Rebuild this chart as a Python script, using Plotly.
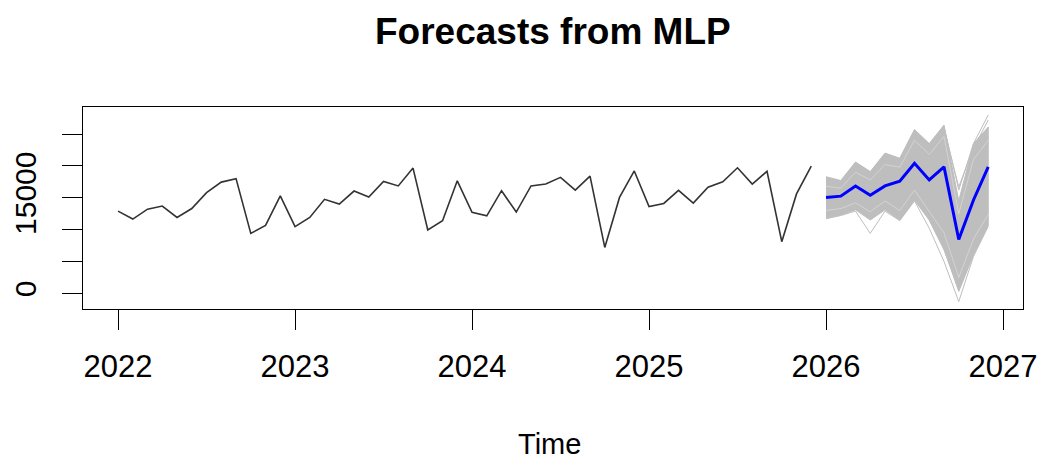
import plotly.graph_objects as go

# Observed monthly series, Jan 2022 - Dec 2025
observed = [
    12900, 11650, 13200, 13700, 11900, 13300, 15800, 17450, 18000, 9400, 10650, 15300,
    10450, 11900, 14750, 14000, 16050, 15100, 17550, 16850, 19650, 9950, 11400, 17650,
    12700, 12150, 16100, 12750, 16850, 17150, 18200, 16200, 18400, 7200, 15050, 19200,
    13600, 14100, 16150, 14150, 16650, 17500, 19700, 17150, 19150, 8100, 15600, 19950,
]
obs_start = 2022

# MLP point forecast, Jan 2026 - Dec 2026
forecast_mean = [15050, 15250, 16850, 15400, 16850, 17600, 20400, 17800, 19850, 8450, 14650, 19850]
fc_start = 2026

# Envelope of the simulated forecast paths
paths_hi = [18300, 17700, 20600, 19100, 22000, 21200, 25700, 23500, 26400, 14500, 23500, 26100]
paths_lo = [11800, 12300, 13100, 11500, 13100, 11500, 14600, 11500, 7000, 300, 6000, 10700]

# Individual simulated paths that reach outside the dense region
sim_path_a = [11700, 12200, 12900, 9400, 12900, 11400, 14500, 10200, 5000, -1300, 5800, 10500]
sim_path_b = [18100, 17500, 20500, 19000, 21900, 21000, 25600, 22000, 26200, 16200, 23500, 28000]
sim_path_c = [12000, 12400, 13300, 11800, 13300, 11600, 14800, 11500, 6800, 500, 6300, 10700]
sim_path_d = [17800, 17200, 20000, 18600, 21500, 20800, 25200, 23300, 25800, 16700, 22800, 27200]

# Gaps between neighbouring simulated paths inside the band
gap_path_a = [16800, 16500, 19000, 17800, 20200, 19800, 24000, 21800, 24600, 12500, 21000, 24000]
gap_path_b = [13000, 13300, 14200, 12800, 14500, 13000, 16200, 12800, 9500, 2500, 8500, 12400]

y_tickvals = [0, 5000, 10000, 15000, 20000, 25000]
y_ticktext = ["0", "", "", "15000", "", ""]
x_tickvals = [2022, 2023, 2024, 2025, 2026, 2027]

obs_t = [obs_start + i / 12 for i in range(len(observed))]
fc_t = [fc_start + i / 12 for i in range(len(forecast_mean))]

GREY = "#BEBEBE"

fig = go.Figure()

# dense band of simulated paths
fig.add_trace(go.Scatter(
    x=fc_t + fc_t[::-1], y=paths_hi + paths_lo[::-1],
    fill="toself", fillcolor=GREY, mode="lines",
    line=dict(color=GREY, width=1), hoverinfo="skip", showlegend=False,
))
for p in (gap_path_a, gap_path_b):
    fig.add_trace(go.Scatter(
        x=fc_t, y=p, mode="lines",
        line=dict(color="rgba(255,255,255,0.4)", width=0.8),
        hoverinfo="skip", showlegend=False,
    ))
for p in (sim_path_a, sim_path_b, sim_path_c, sim_path_d):
    fig.add_trace(go.Scatter(
        x=fc_t, y=p, mode="lines", line=dict(color=GREY, width=1),
        hoverinfo="skip", showlegend=False,
    ))

fig.add_trace(go.Scatter(
    x=obs_t, y=observed, mode="lines",
    line=dict(color="#333333", width=1.6), showlegend=False,
))
fig.add_trace(go.Scatter(
    x=fc_t, y=forecast_mean, mode="lines",
    line=dict(color="#0000FF", width=3), showlegend=False,
))

FONT = "Liberation Sans, Arial, sans-serif"

# plot area spans 107..309 px vertically, 83..1023 px horizontally
fig.update_layout(
    width=1040, height=459,
    margin=dict(l=83, r=17, t=107, b=150),
    paper_bgcolor="white", plot_bgcolor="white",
    font=dict(family=FONT, color="black"),
    showlegend=False,
    annotations=[
        dict(text="<b>Forecasts from MLP</b>", x=0.5, y=(309 - 31) / 202,
             xref="paper", yref="paper", xanchor="center", yanchor="middle",
             showarrow=False, font=dict(size=37, family=FONT, color="black")),
        dict(text="Time", x=(549 - 83) / 940, y=(309 - 444) / 202,
             xref="paper", yref="paper", xanchor="center", yanchor="middle",
             showarrow=False, font=dict(size=29, family=FONT, color="black")),
    ],
)

fig.update_xaxes(
    range=[2021.802, 2027.113], tickvals=x_tickvals,
    ticktext=[str(v) for v in x_tickvals],
    ticks="outside", ticklen=20, tickwidth=1, tickcolor="black",
    showline=True, linecolor="black", linewidth=1, mirror=True,
    showgrid=False, zeroline=False, automargin=False,
    tickfont=dict(size=31, family=FONT, color="black"),
    ticklabelstandoff=10,
)
fig.update_yaxes(
    range=[-2464, 29238], tickvals=y_tickvals, ticktext=y_ticktext,
    ticks="outside", ticklen=20, tickwidth=1, tickcolor="black",
    showline=True, linecolor="black", linewidth=1, mirror=True,
    showgrid=False, zeroline=False, tickangle=-90, automargin=False,
    tickfont=dict(size=30, family=FONT, color="black"),
    ticklabelstandoff=14,
)

fig.write_html("out.html")
